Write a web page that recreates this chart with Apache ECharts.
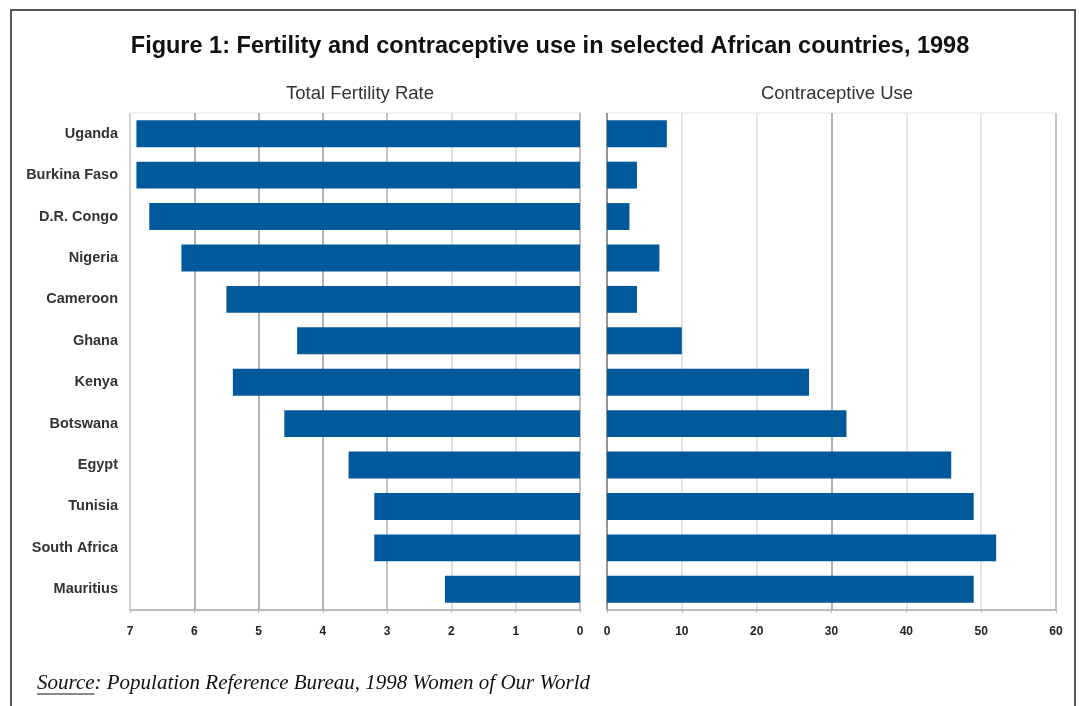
<!DOCTYPE html>
<html>
<head>
<meta charset="utf-8">
<script src="https://cdn.jsdelivr.net/npm/echarts@6/dist/echarts.min.js"></script>
<style>
  html, body { margin: 0; padding: 0; background: #fff; }
  #chart { width: 1079px; height: 706px; }
</style>
</head>
<body>
<div id="chart"></div>
<script>
// Countries, top to bottom
const countries = ['Uganda', 'Burkina Faso', 'D.R. Congo', 'Nigeria', 'Cameroon', 'Ghana',
  'Kenya', 'Botswana', 'Egypt', 'Tunisia', 'South Africa', 'Mauritius'];
// Total fertility rate (children per woman)
const fertility = [6.9, 6.9, 6.7, 6.2, 5.5, 4.4, 5.4, 4.6, 3.6, 3.2, 3.2, 2.1];
// Contraceptive use (% of married women, modern methods)
const contraceptive = [8, 4, 3, 7, 4, 10, 27, 32, 46, 49, 52, 49];
// Tick labels for the two value axes
const fertilityTicks = ['0', '1', '2', '3', '4', '5', '6', '7'];
const contraceptiveTicks = ['0', '10', '20', '30', '40', '50', '60'];

const BAR = '#00599b';
const FONT = 'Liberation Sans, Arial, sans-serif';
const SERIF = 'Liberation Serif, Times New Roman, serif';
const SRC_FONT = 'italic 21px ' + SERIF;

const chart = echarts.init(document.getElementById('chart'), null, { renderer: 'canvas' });

// width of the underlined word in the source line
const measure = document.createElement('canvas').getContext('2d');
measure.font = SRC_FONT;
const srcWordW = measure.measureText('Source').width;

const tickLabel = { color: '#222', fontFamily: FONT, fontSize: 12, fontWeight: 'bold', margin: 16 };

chart.setOption({
  animation: false,
  title: [
    { text: 'Figure 1: Fertility and contraceptive use in selected African countries, 1998',
      left: 545, top: 30, textAlign: 'center',
      textStyle: { fontFamily: FONT, fontSize: 23.5, fontWeight: 'bold', color: '#111' } },
    { text: 'Total Fertility Rate', left: 355, top: 79, textAlign: 'center',
      textStyle: { fontFamily: FONT, fontSize: 18.5, fontWeight: 'normal', color: '#333' } },
    { text: 'Contraceptive Use', left: 832, top: 79, textAlign: 'center',
      textStyle: { fontFamily: FONT, fontSize: 18.5, fontWeight: 'normal', color: '#333' } }
  ],
  grid: [
    { left: 130, top: 113, width: 450, height: 497, show: true, borderColor: '#e4e4e4', borderWidth: 1 },
    { left: 607, top: 113, width: 449, height: 497, show: true, borderColor: '#e4e4e4', borderWidth: 1 }
  ],
  xAxis: [
    { type: 'value', gridIndex: 0, min: 0, max: 7, interval: 1, inverse: true,
      axisLine: { show: true, lineStyle: { color: '#aaa', width: 1.5 } },
      axisTick: { show: true, length: 3, lineStyle: { color: '#bbb' } },
      axisLabel: Object.assign({}, tickLabel, { formatter: v => fertilityTicks[v] }),
      splitLine: { show: true, lineStyle: { width: 1.5,
        color: ['#888', '#d4d4d4', '#d4d4d4', '#b0b0b0', '#9a9a9a', '#9a9a9a', '#9a9a9a', '#c8c8c8'] } } },
    { type: 'value', gridIndex: 1, min: 0, max: 60, interval: 10,
      axisLine: { show: true, lineStyle: { color: '#aaa', width: 1.5 } },
      axisTick: { show: true, length: 3, lineStyle: { color: '#bbb' } },
      axisLabel: Object.assign({}, tickLabel, { formatter: v => contraceptiveTicks[v / 10] }),
      splitLine: { show: true, lineStyle: { width: 1.5,
        color: ['#777', '#dddddd', '#dddddd', '#9a9a9a', '#dddddd', '#dddddd', '#b8b8b8'] } } }
  ],
  yAxis: [
    { type: 'category', gridIndex: 0, data: countries, inverse: true, position: 'left',
      axisLine: { show: true, lineStyle: { color: '#c8c8c8', width: 1.5 } },
      axisTick: { show: false },
      axisLabel: { color: '#333', fontFamily: FONT, fontSize: 14.5, fontWeight: 'bold', margin: 12 } },
    { type: 'category', gridIndex: 1, data: countries, inverse: true, position: 'left',
      axisLine: { show: false }, axisTick: { show: false }, axisLabel: { show: false } }
  ],
  series: [
    { type: 'bar', xAxisIndex: 0, yAxisIndex: 0, data: fertility,
      barWidth: '65%', itemStyle: { color: BAR } },
    { type: 'bar', xAxisIndex: 1, yAxisIndex: 1, data: contraceptive,
      barWidth: '65%', itemStyle: { color: BAR } }
  ],
  graphic: [
    // outer frame (open at the bottom)
    { type: 'polyline', silent: true,
      shape: { points: [[11, 706], [11, 10], [1075, 10], [1075, 706]] },
      style: { stroke: '#555', lineWidth: 2, fill: null } },
    { type: 'text', left: 37, top: 673,
      style: { text: 'Source: Population Reference Bureau, 1998 Women of Our World',
        font: SRC_FONT, fill: '#111' } },
    { type: 'line', silent: true,
      shape: { x1: 37, y1: 694, x2: 37 + srcWordW, y2: 694 },
      style: { stroke: '#111', lineWidth: 1 } }
  ]
});
</script>
</body>
</html>
